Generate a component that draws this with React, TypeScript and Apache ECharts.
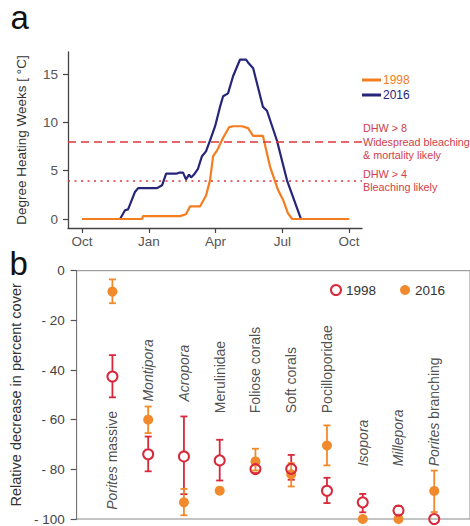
import React, { useEffect, useRef } from "react";
import * as echarts from "echarts";

// ---------- Panel a: Degree Heating Weeks (x in months since 1 Oct) ----------
const tickMonths = [0, 3, 6, 9, 12];
const monthLabels = ["Oct", "Jan", "Apr", "Jul", "Oct"];
const dhwTicks = [0, 5, 10, 15];
const thresholds = [8, 4];
const thresholdLabels = [
  "DHW > 8\nWidespread bleaching\n& mortality likely",
  "DHW > 4\nBleaching likely",
];

const month1998 = [0, 2.7, 2.74, 4.4, 4.67, 4.85, 5.3, 5.57, 5.75, 5.89, 6.07, 6.34, 6.61, 6.79, 7.19, 7.46, 7.69, 8.13, 8.45, 8.81, 9.03, 9.25, 9.44, 12];
const dhw1998 = [0, 0, 0.3, 0.3, 0.5, 1.3, 1.3, 2.4, 4.0, 6.5, 7.1, 8.4, 9.5, 9.6, 9.6, 9.4, 8.6, 8.6, 5.4, 3.0, 2.0, 0.6, 0, 0];

const month2016 = [0, 1.71, 1.93, 2.07, 2.38, 2.52, 3.37, 3.6, 3.78, 4.27, 4.36, 4.54, 4.67, 4.81, 4.9, 5.03, 5.21, 5.39, 5.57, 5.75, 5.98, 6.2, 6.34, 6.56, 6.79, 7.1, 7.37, 7.46, 7.69, 8.13, 8.31, 8.76, 9.21, 9.84, 12];
const dhw2016 = [0, 0, 0.9, 1.0, 2.8, 3.2, 3.2, 3.5, 4.7, 4.7, 4.8, 4.8, 4.1, 4.6, 4.3, 4.6, 5.2, 6.5, 7.0, 8.1, 9.6, 11.6, 12.7, 13.0, 14.8, 16.5, 16.5, 16.2, 15.6, 11.6, 11.2, 8.1, 4.0, 0, 0];

// ---------- Panel b: relative decrease in percent cover ----------
const categories = ["Porites massive", "Montipora", "Acropora", "Merulinidae", "Foliose corals", "Soft corals", "Pocilloporidae", "Isopora", "Millepora", "Porites branching"];
const italicWords = ["Porites", "Montipora", "Acropora", "Isopora", "Millepora"];

const mean1998 = [-42.6, -73.9, -74.8, -76.4, -79.9, -79.8, -88.6, -93.3, -96.6, -100];
const upper1998 = [-34, -66.8, -58.7, -68.1, -78.3, -74.2, -83.4, -89.9, -94.8, -100];
const lower1998 = [-51, -80.8, -90, -84.5, -81.5, -84.2, -93.6, -97.3, -98.3, -100];

const mean2016 = [-8.4, -60, -93.3, -88.6, -76.8, -82.0, -70.4, -100, -100, -88.7];
const upper2016 = [-3.5, -54.7, -87.9, -88.6, -71.7, -77.5, -62.3, -100, -100, -80.5];
const lower2016 = [-13.1, -65.4, -98.5, -88.6, -80.5, -86.9, -78.4, -100, -100, -97.2];

const labelBase = [-96.3, -52.7, -52.7, -57.4, -57.4, -57.4, -57.4, -78.8, -78.8, -78.8];

const FONT = "'Liberation Sans', Arial, Helvetica, sans-serif";
const NAVY = "#25257a";
const ORANGE_LINE = "#f47d20";
const RED = "#d8283a";
const ORANGE = "#f08a2c";
const ANNOT = "#d2404b";
const LINE_RED = "#e0343c";

function zip(a: number[], b: number[]) {
  return a.map((v, i) => [v, b[i]]);
}

function errorBar(color: string, gap: number) {
  return (params: any, api: any) => {
    const x = api.value(0);
    const top = api.coord([x, api.value(1)]);
    const bot = api.coord([x, api.value(2)]);
    const mid = api.coord([x, api.value(3)]);
    const st = { stroke: color, lineWidth: 1.8 };
    const cap = 3.5;
    const children: any[] = [];
    const seg = (y1: number, y2: number) => {
      if (y2 - y1 > 0.5) children.push({ type: "line", shape: { x1: top[0], y1, x2: top[0], y2 }, style: st });
    };
    if (gap > 0) {
      seg(top[1], mid[1] - gap);
      seg(mid[1] + gap, bot[1]);
    } else {
      seg(top[1], bot[1]);
    }
    if (bot[1] - top[1] > 1) {
      children.push({ type: "line", shape: { x1: top[0] - cap, y1: top[1], x2: top[0] + cap, y2: top[1] }, style: st });
      children.push({ type: "line", shape: { x1: bot[0] - cap, y1: bot[1], x2: bot[0] + cap, y2: bot[1] }, style: st });
    }
    return { type: "group", children };
  };
}

function catLabel(name: string) {
  return name
    .split(" ")
    .map((w) => (italicWords.indexOf(w) >= 0 ? "{i|" + w + "}" : "{n|" + w + "}"))
    .join("{n| }");
}

export default function App() {
  const ref = useRef<HTMLDivElement>(null);
  useEffect(() => {
    document.body.style.margin = "0";
    const chart = echarts.init(ref.current!, null, { renderer: "svg" });
    const option: any = {
      animation: false,
      backgroundColor: "#ffffff",
      textStyle: { fontFamily: FONT },
      graphic: [
        { type: "text", x: 10.4, y: 17, style: { text: "a", fontSize: 33, fontFamily: FONT, fill: "#111", verticalAlign: "middle" } },
        { type: "text", x: 9.5, y: 263.6, style: { text: "b", fontSize: 33, fontFamily: FONT, fill: "#111", verticalAlign: "middle" } },
      ],
      grid: [
        { left: 68, top: 52, width: 294, height: 176 },
        { left: 68, top: 270.7, width: 402.6, height: 248.6, show: true, borderColor: "#888", borderWidth: 1 },
      ],
      legend: [
        {
          orient: "vertical",
          left: 357,
          top: 69,
          icon: "rect",
          itemWidth: 19,
          itemHeight: 3,
          itemGap: 3,
          textStyle: { fontSize: 12, fontFamily: FONT, padding: [0, 0, 0, -3] },
          data: [
            { name: "1998", icon: "rect", itemStyle: { color: ORANGE_LINE }, textStyle: { color: ORANGE_LINE } },
            { name: "2016", icon: "rect", itemStyle: { color: NAVY }, textStyle: { color: NAVY } },
          ],
        },
        {
          orient: "horizontal",
          left: 325,
          top: 278,
          itemWidth: 10,
          itemHeight: 10,
          itemGap: 24,
          textStyle: { fontSize: 13.5, fontFamily: FONT, color: "#333" },
          data: [
            { name: "1998", icon: "circle", itemStyle: { color: "#ffffff", borderColor: RED, borderWidth: 2 } },
            { name: "2016", icon: "circle", itemStyle: { color: ORANGE, borderWidth: 0 } },
          ],
        },
      ],
      xAxis: [
        {
          gridIndex: 0,
          type: "value",
          min: -0.63,
          max: 12.58,
          splitLine: { show: false },
          axisLine: { show: true, onZero: false, lineStyle: { color: "#444", width: 1.3 } },
          axisTick: { show: true, customValues: tickMonths, length: 5, lineStyle: { color: "#444", width: 1.2 } },
          axisLabel: {
            customValues: tickMonths,
            formatter: (v: number) => monthLabels[tickMonths.indexOf(v)] ?? "",
            color: "#555",
            fontSize: 13.5,
            margin: 6,
            fontFamily: FONT,
          },
        },
        {
          gridIndex: 1,
          type: "value",
          min: 0,
          max: 11,
          show: false,
        },
      ],
      yAxis: [
        {
          gridIndex: 0,
          type: "value",
          min: -0.93,
          max: 17.28,
          name: "Degree Heating Weeks [ °C]",
          nameLocation: "middle",
          nameGap: 40,
          nameTextStyle: { fontSize: 13.5, color: "#333", fontFamily: FONT },
          splitLine: { show: false },
          axisLine: { show: true, onZero: false, lineStyle: { color: "#444", width: 1.3 } },
          axisTick: { show: true, customValues: dhwTicks, length: 5, lineStyle: { color: "#444", width: 1.2 } },
          axisLabel: { customValues: dhwTicks, color: "#555", fontSize: 13.5, margin: 10, fontFamily: FONT },
        },
        {
          gridIndex: 1,
          type: "value",
          min: -100,
          max: 0,
          interval: 20,
          name: "Relative decrease in percent cover",
          nameLocation: "middle",
          nameGap: 41,
          nameTextStyle: { fontSize: 14.5, color: "#333", fontFamily: FONT },
          splitLine: { show: false },
          axisLine: { show: true, onZero: false, lineStyle: { color: "#777", width: 1 } },
          axisTick: { show: true, length: 6, lineStyle: { color: "#555", width: 1.2 } },
          axisLabel: {
            color: "#444",
            fontSize: 13.5,
            margin: 12,
            fontFamily: FONT,
            formatter: (v: number) => (v === 0 ? "0" : "- " + Math.abs(v)),
          },
        },
      ],
      series: [
        {
          name: "2016",
          type: "line",
          xAxisIndex: 0,
          yAxisIndex: 0,
          data: zip(month2016, dhw2016),
          showSymbol: false,
          symbol: "none",
          lineStyle: { color: NAVY, width: 2.2 },
          itemStyle: { color: NAVY },
          z: 2,
          markLine: {
            silent: true,
            symbol: "none",
            animation: false,
            data: thresholds.map((t, i) => ({
              yAxis: t,
              lineStyle: { color: LINE_RED, width: 1.5, type: i === 0 ? [8, 5] : [2, 4.5] },
              label: {
                show: true,
                position: "end",
                distance: 1,
                formatter: thresholdLabels[i],
                color: ANNOT,
                fontSize: 10.8,
                lineHeight: 13.3,
                align: "left",
                fontFamily: FONT,
              },
            })),
          },
        },
        {
          name: "1998",
          type: "line",
          xAxisIndex: 0,
          yAxisIndex: 0,
          data: zip(month1998, dhw1998),
          showSymbol: false,
          symbol: "none",
          lineStyle: { color: ORANGE_LINE, width: 2.2 },
          itemStyle: { color: ORANGE_LINE },
          z: 3,
        },
        {
          name: "err1998",
          type: "custom",
          xAxisIndex: 1,
          yAxisIndex: 1,
          renderItem: errorBar(RED, 5.5),
          encode: { x: 0, y: [1, 2] },
          data: categories.map((_, i) => [i + 1, upper1998[i], lower1998[i], mean1998[i]]),
          z: 2,
        },
        {
          name: "err2016",
          type: "custom",
          xAxisIndex: 1,
          yAxisIndex: 1,
          renderItem: errorBar(ORANGE, 0),
          encode: { x: 0, y: [1, 2] },
          data: categories.map((_, i) => [i + 1, upper2016[i], lower2016[i], mean2016[i]]),
          z: 3,
        },
        {
          name: "2016",
          type: "scatter",
          xAxisIndex: 1,
          yAxisIndex: 1,
          symbol: "circle",
          symbolSize: 10,
          itemStyle: { color: ORANGE, opacity: 1 },
          data: categories.map((_, i) => [i + 1, mean2016[i]]),
          z: 4,
        },
        {
          name: "1998",
          type: "scatter",
          xAxisIndex: 1,
          yAxisIndex: 1,
          symbol: "circle",
          symbolSize: 10,
          itemStyle: { color: "rgba(255,255,255,0)", borderColor: RED, borderWidth: 2, opacity: 1 },
          data: categories.map((_, i) => [i + 1, mean1998[i]]),
          z: 5,
        },
        {
          name: "labels",
          type: "scatter",
          xAxisIndex: 1,
          yAxisIndex: 1,
          symbolSize: 1,
          itemStyle: { color: "rgba(0,0,0,0)" },
          silent: true,
          data: categories.map((c, i) => ({ value: [i + 1, labelBase[i]], name: c })),
          label: {
            show: true,
            position: "inside",
            rotate: 90,
            align: "left",
            verticalAlign: "middle",
            formatter: (p: any) => catLabel(p.name),
            rich: {
              i: { fontStyle: "italic", fontSize: 14, color: "#222", fontFamily: FONT },
              n: { fontSize: 14, color: "#222", fontFamily: FONT },
            },
          },
          z: 6,
        },
      ],
    };
    chart.setOption(option);
    return () => chart.dispose();
  }, []);
  return <div ref={ref} style={{ width: 470, height: 526 }} />;
}
